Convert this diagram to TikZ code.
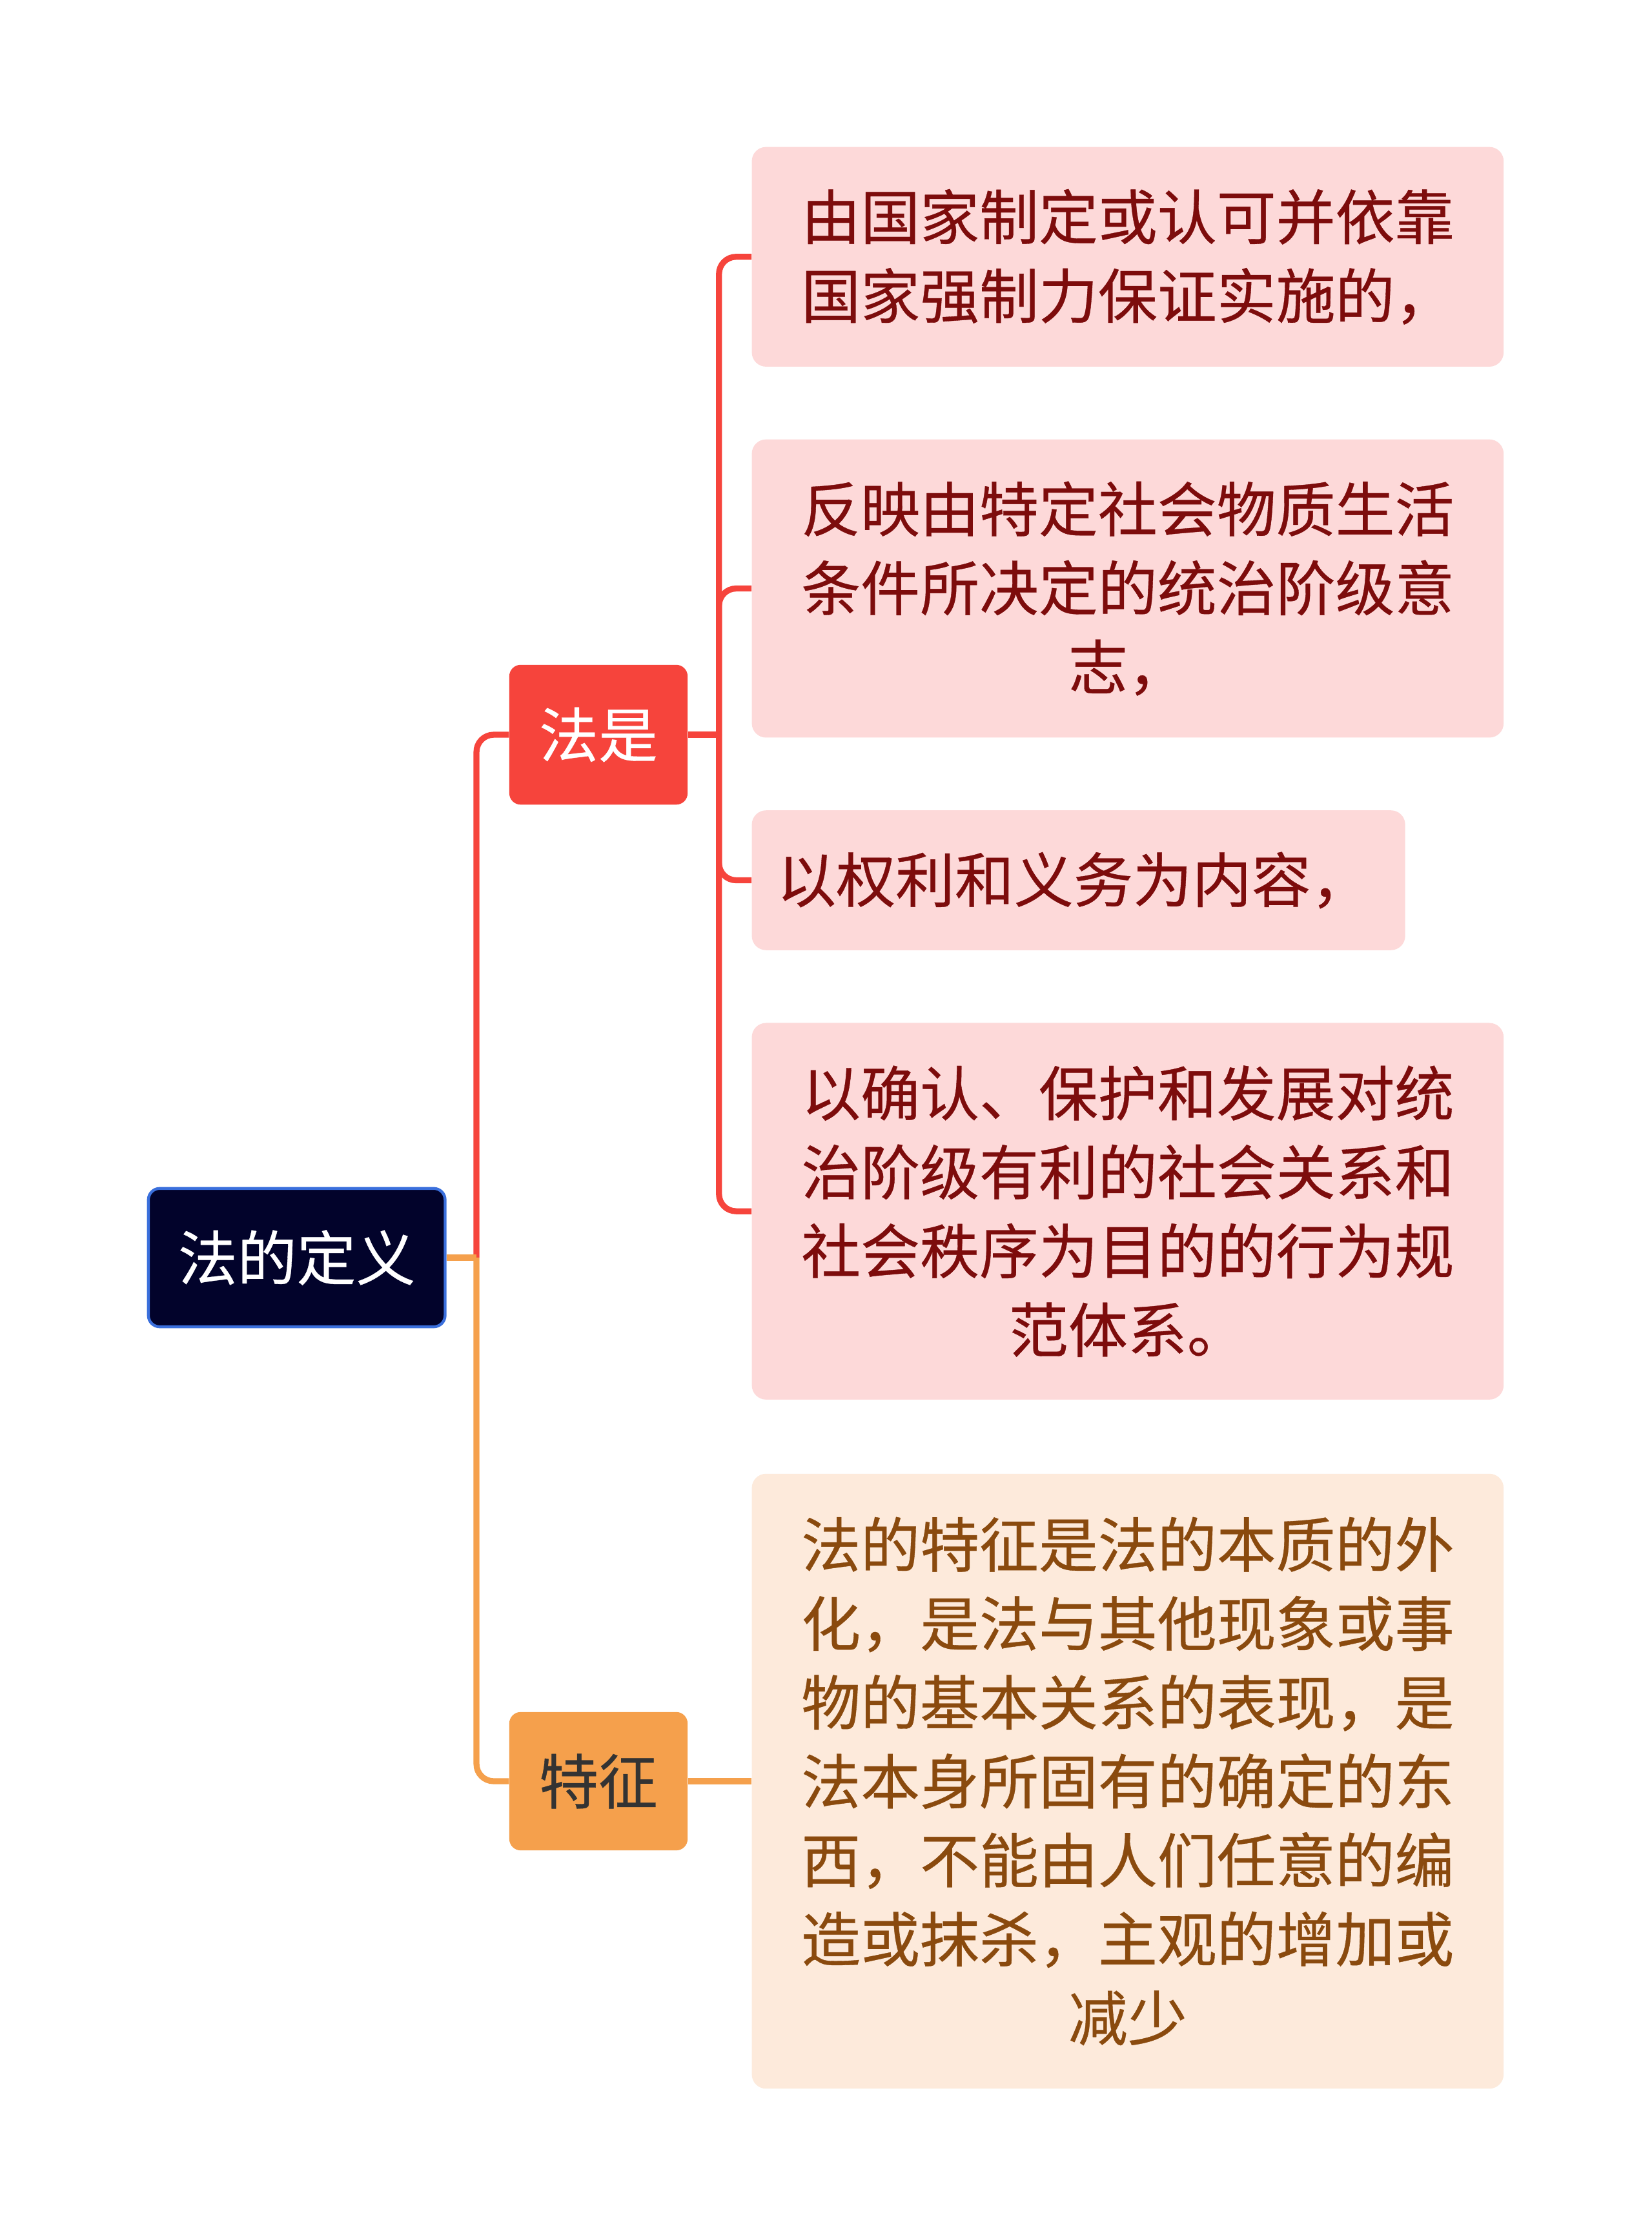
\documentclass[tikz,border=0pt]{standalone}
\usepackage{fontspec}
\setmainfont{Noto Sans CJK SC}
\newfontfamily\cjk[FakeBold=0.4]{Noto Sans CJK SC}
\definecolor{rootfill}{HTML}{02032B}
\definecolor{rootborder}{HTML}{3A6FDC}
\definecolor{redmain}{HTML}{F6443C}
\definecolor{orangemain}{HTML}{F5A04C}
\definecolor{pinkfill}{HTML}{FDD9D9}
\definecolor{peachfill}{HTML}{FDEADB}
\definecolor{redtext}{HTML}{7D0C0C}
\definecolor{browntext}{HTML}{8A4A0E}
\definecolor{graytext}{HTML}{333333}
\tikzset{
  txt/.style={font=\cjk\fontsize{41.6}{55.3}\selectfont, align=center, inner sep=0pt},
  rootbox/.style={txt, fill=rootfill, draw=rootborder, line width=2pt, rounded corners=8pt, text=white},
  redbox/.style={txt, fill=redmain, rounded corners=8pt, text=white},
  orangebox/.style={txt, fill=orangemain, rounded corners=8pt, text=graytext},
  pinkbox/.style={txt, fill=pinkfill, rounded corners=10pt, text=redtext},
  peachbox/.style={txt, fill=peachfill, rounded corners=10pt, text=browntext},
  redline/.style={draw=redmain, line width=4.2pt, rounded corners=12pt},
  orangeline/.style={draw=orangemain, line width=4.2pt, rounded corners=12pt},
}
\begin{document}
\begin{tikzpicture}[x=1pt,y=-1pt]
\useasboundingbox[fill=white] (0,0) rectangle (1158,1568);
\coordinate (j1) at (334,881.5);
\coordinate (j2) at (504,515);
% nodes
\node[rootbox, minimum width=208pt, minimum height=97pt] (root) at (208,881.5) {法的定义};
\node[redbox, minimum width=125pt, minimum height=98pt] (fashi) at (419.5,515) {法是};
\node[orangebox, minimum width=125pt, minimum height=97pt] (tezheng) at (419.5,1248.5) {特征};
\node[pinkbox, minimum width=527pt, minimum height=154pt] (l1) at (790.5,180) {由国家制定或认可并依靠\\国家强制力保证实施的，};
\node[pinkbox, minimum width=527pt, minimum height=209pt] (l2) at (790.5,412.5) {反映由特定社会物质生活\\条件所决定的统治阶级意\\志，};
\node[pinkbox, minimum width=458pt, minimum height=98pt] (l3) at (756,617) {以权利和义务为内容，\hspace*{7pt}};
\node[pinkbox, minimum width=527pt, minimum height=264pt] (l4) at (790.5,849) {以确认、保护和发展对统\\治阶级有利的社会关系和\\社会秩序为目的的行为规\\范体系。};
\node[peachbox, minimum width=527pt, minimum height=431pt] (l5) at (790.5,1248.5) {法的特征是法的本质的外\\化，是法与其他现象或事\\物的基本关系的表现，是\\法本身所固有的确定的东\\西，不能由人们任意的编\\造或抹杀，主观的增加或\\减少};
% edges
\draw[redline] (j1) |- (fashi.west);
\draw[orangeline] (j1) |- (tezheng.west);
\draw[orangeline] (root.east) -- (j1);
\draw[redline] (fashi.east) -- (j2);
\draw[redline] (j2) |- (l1.west);
\draw[redline] (j2) |- (l2.west);
\draw[redline] (j2) |- (l3.west);
\draw[redline] (j2) |- (l4.west);
\draw[orangeline] (tezheng.east) -- (l5.west);
\end{tikzpicture}
\end{document}
